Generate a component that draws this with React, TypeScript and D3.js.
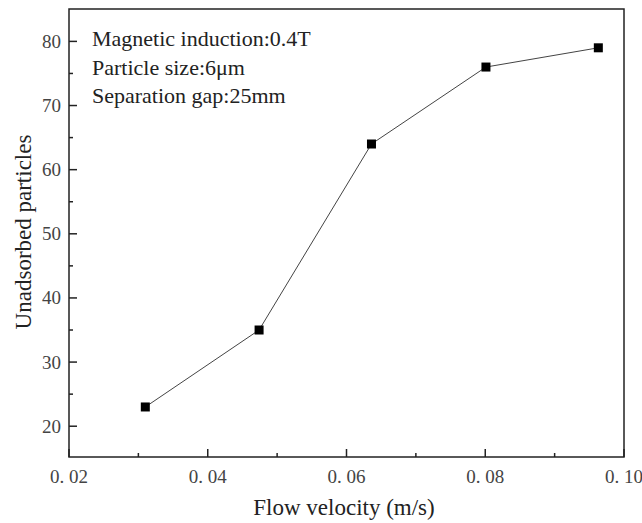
import React from "react";
import * as d3 from "d3";

const velocities = [0.031, 0.0474, 0.0636, 0.0801, 0.0963];
const unadsorbed = [23, 35, 64, 76, 79];
const xTicks = [0.02, 0.04, 0.06, 0.08, 0.1];
const xTickLabels = ["0. 02", "0. 04", "0. 06", "0. 08", "0. 10"];
const xMinorTicks = [0.03, 0.05, 0.07, 0.09];
const yTicks = [20, 30, 40, 50, 60, 70, 80];
const yMinorTicks = [25, 35, 45, 55, 65, 75];
const annotations = ["Magnetic induction:0.4T", "Particle size:6μm", "Separation gap:25mm"];

const W = 642, H = 523;
const L = 69, R = 624, T = 9, B = 457;

export default function App() {
  const x = d3.scaleLinear().domain([0.02, 0.1]).range([L, R]);
  const y = d3.scaleLinear().domain([15.2, 85.05]).range([B, T]);
  const pts = velocities.map((v, i) => [x(v), y(unadsorbed[i])] as [number, number]);
  const line = d3.line()(pts) || "";
  const font = "'Liberation Serif', 'Times New Roman', serif";
  const ink = "#222";
  return (
    <svg width={W} height={H} style={{ position: "absolute", left: 0, top: 0, background: "#fff" }}>
      <rect x={0} y={0} width={W} height={H} fill="#fff" />
      <path d={line} fill="none" stroke="#444" strokeWidth={1} />
      {pts.map((p, i) => (
        <rect key={i} x={p[0] - 4.5} y={p[1] - 4.5} width={9} height={9} fill="#000" />
      ))}
      <rect x={L} y={T} width={R - L} height={B - T} fill="none" stroke={ink} strokeWidth={1.5} />
      {xTicks.map((t, i) => (
        <g key={"xt" + i}>
          <line x1={x(t)} x2={x(t)} y1={B} y2={B - 8} stroke={ink} strokeWidth={1.5} />
          <text x={x(t)} y={483} textAnchor="middle" fontFamily={font} fontSize={19} fill="#444">{xTickLabels[i]}</text>
        </g>
      ))}
      {xMinorTicks.map((t, i) => (
        <line key={"xm" + i} x1={x(t)} x2={x(t)} y1={B} y2={B - 4} stroke={ink} strokeWidth={1.5} />
      ))}
      {yTicks.map((t, i) => (
        <g key={"yt" + i}>
          <line x1={L} x2={L + 8} y1={y(t)} y2={y(t)} stroke={ink} strokeWidth={1.5} />
          <text x={61} y={y(t) + 6.5} textAnchor="end" fontFamily={font} fontSize={19} fill="#444">{t}</text>
        </g>
      ))}
      {yMinorTicks.map((t, i) => (
        <line key={"ym" + i} x1={L} x2={L + 4} y1={y(t)} y2={y(t)} stroke={ink} strokeWidth={1.5} />
      ))}
      {annotations.map((a, i) => (
        <text key={"a" + i} x={92} y={46 + i * 28.5} fontFamily={font} fontSize={22} fill="#222">{a}</text>
      ))}
      <text x={344} y={515} textAnchor="middle" fontFamily={font} fontSize={23} fill="#222">Flow velocity (m/s)</text>
      <text transform={`translate(31, 232) rotate(-90)`} textAnchor="middle" fontFamily={font} fontSize={23} fill="#222">Unadsorbed particles</text>
    </svg>
  );
}
